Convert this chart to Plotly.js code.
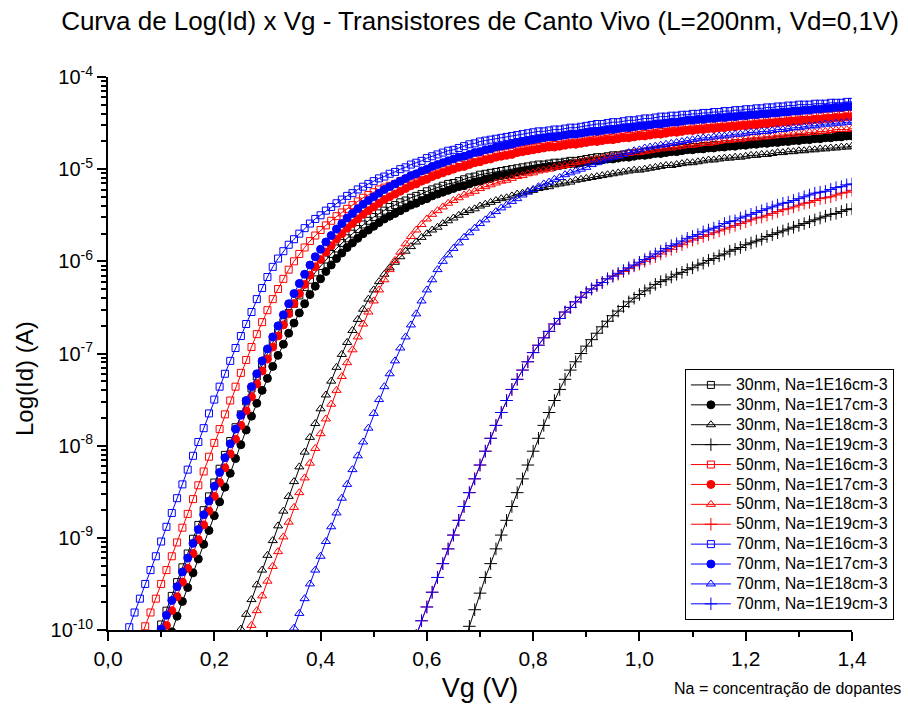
<!DOCTYPE html>
<html>
<head>
<meta charset="utf-8">
<script src="https://cdn.plot.ly/plotly-3.0.1.min.js"></script>
<style>html,body{margin:0;padding:0;background:#fff;}#chart{width:908px;height:713px;}</style>
</head>
<body>
<div id="chart"></div>
<script>
// Gate voltage grid (V)
const Vg = [0.03,0.04,0.05,0.06,0.07,0.08,0.09,0.10,0.11,0.12,
0.13,0.14,0.15,0.16,0.17,0.18,0.19,0.20,0.21,0.22,
0.23,0.24,0.25,0.26,0.27,0.28,0.29,0.30,0.31,0.32,
0.33,0.34,0.35,0.36,0.37,0.38,0.39,0.40,0.41,0.42,
0.43,0.44,0.45,0.46,0.47,0.48,0.49,0.50,0.51,0.52,
0.53,0.54,0.55,0.56,0.57,0.58,0.59,0.60,0.61,0.62,
0.63,0.64,0.65,0.66,0.67,0.68,0.69,0.70,0.71,0.72,
0.73,0.74,0.75,0.76,0.77,0.78,0.79,0.80,0.81,0.82,
0.83,0.84,0.85,0.86,0.87,0.88,0.89,0.90,0.91,0.92,
0.93,0.94,0.95,0.96,0.97,0.98,0.99,1.00,1.01,1.02,
1.03,1.04,1.05,1.06,1.07,1.08,1.09,1.10,1.11,1.12,
1.13,1.14,1.15,1.16,1.17,1.18,1.19,1.20,1.21,1.22,
1.23,1.24,1.25,1.26,1.27,1.28,1.29,1.30,1.31,1.32,
1.33,1.34,1.35,1.36,1.37,1.38,1.39,1.40];

// log10(Id [A]) per series; each array ends at Vg = 1.40
const log_30nm_1E16 = [-10.09,
-9.94,-9.79,-9.63,-9.48,-9.32,-9.17,-9.01,-8.86,-8.70,-8.55,
-8.40,-8.25,-8.10,-7.95,-7.80,-7.66,-7.52,-7.38,-7.25,-7.12,
-7.00,-6.88,-6.77,-6.66,-6.56,-6.46,-6.37,-6.28,-6.20,-6.12,
-6.05,-5.98,-5.92,-5.86,-5.80,-5.75,-5.70,-5.65,-5.60,-5.56,
-5.52,-5.48,-5.45,-5.41,
-5.39,-5.36,-5.34,-5.31,-5.29,-5.27,-5.24,-5.22,-5.20,-5.18,
-5.16,-5.15,-5.13,-5.11,-5.09,-5.08,-5.06,-5.05,-5.04,-5.03,
-5.02,-5.01,-5.00,-4.99,-4.98,-4.97,-4.96,-4.95,-4.95,-4.94,
-4.93,-4.93,-4.92,-4.91,-4.91,-4.90,-4.89,-4.88,-4.87,-4.87,
-4.86,-4.85,-4.85,-4.84,-4.83,-4.83,-4.82,-4.81,-4.81,-4.80,
-4.79,-4.79,-4.78,-4.78,-4.77,-4.77,-4.76,-4.76,-4.75,-4.75,
-4.74,-4.74,-4.73,-4.73,-4.72,-4.72,-4.71,-4.71,-4.70,-4.70,
-4.69,-4.69,-4.68,-4.68,-4.67,-4.67,-4.66,-4.66,-4.66,-4.65,
-4.65,-4.65,-4.64,-4.64,-4.64,-4.63,-4.63];

const log_30nm_1E17 = [-10.02,
-9.85,-9.69,-9.54,-9.38,-9.23,-9.07,-8.92,-8.76,-8.61,-8.45,
-8.30,-8.14,-7.99,-7.83,-7.68,-7.54,-7.40,-7.27,-7.14,-7.02,
-6.90,-6.78,-6.67,-6.56,-6.46,-6.36,-6.27,-6.19,-6.11,-6.04,
-5.97,-5.91,-5.85,-5.80,-5.75,-5.70,-5.66,-5.62,-5.58,-5.54,
-5.51,-5.48,-5.45,-5.42,-5.39,-5.37,-5.34,-5.32,-5.29,-5.27,
-5.25,-5.23,-5.21,-5.19,-5.18,-5.16,-5.14,-5.13,-5.11,-5.10,
-5.08,-5.07,-5.06,-5.05,-5.03,-5.02,-5.01,-5.00,-4.99,-4.98,
-4.97,-4.97,-4.96,-4.95,-4.94,-4.94,-4.93,-4.92,-4.91,-4.91,
-4.90,-4.89,-4.89,-4.88,-4.87,-4.87,-4.86,-4.85,-4.85,-4.84,
-4.83,-4.83,-4.82,-4.81,-4.81,-4.80,-4.79,-4.79,-4.78,-4.78,
-4.77,-4.77,-4.76,-4.76,-4.75,-4.75,-4.74,-4.74,-4.73,-4.73,
-4.72,-4.72,-4.71,-4.71,-4.70,-4.70,-4.69,-4.69,-4.68,-4.68,
-4.67,-4.67,-4.66,-4.66,-4.65,-4.65,-4.64,-4.64];

const log_30nm_1E18 = [-10.15,
-9.99,-9.83,-9.67,-9.51,-9.35,-9.19,-9.03,-8.87,-8.71,-8.55,
-8.39,-8.23,-8.07,-7.91,-7.76,-7.60,-7.45,-7.30,-7.15,-7.01,
-6.88,-6.75,-6.63,-6.52,-6.41,-6.31,-6.22,-6.14,-6.07,-6.01,
-5.95,-5.89,-5.84,-5.79,-5.74,-5.70,-5.66,-5.63,-5.59,-5.56,
-5.53,-5.50,-5.47,-5.45,-5.43,-5.40,-5.38,-5.36,-5.34,-5.32,
-5.31,-5.29,-5.27,-5.26,-5.24,-5.23,-5.21,-5.20,-5.19,-5.17,
-5.16,-5.15,-5.14,-5.12,-5.11,-5.10,-5.09,-5.08,-5.07,-5.06,
-5.05,-5.04,-5.03,-5.02,-5.01,-5.01,-5.00,-4.99,-4.98,-4.97,
-4.96,-4.96,-4.95,-4.94,-4.93,-4.93,-4.92,-4.91,-4.90,-4.90,
-4.89,-4.88,-4.88,-4.87,-4.87,-4.86,-4.85,-4.85,-4.84,-4.84,
-4.83,-4.82,-4.82,-4.81,-4.81,-4.80,-4.80,-4.79,-4.79,-4.78,
-4.78,-4.77,-4.77,-4.76,-4.76,-4.75];

const log_30nm_1E19 = [-10.14,
-9.96,-9.78,-9.60,-9.43,-9.28,-9.12,-8.97,-8.81,-8.66,-8.51,
-8.36,-8.21,-8.06,-7.92,-7.78,-7.64,-7.51,-7.39,-7.28,-7.18,
-7.09,-7.00,-6.92,-6.85,-6.78,-6.71,-6.65,-6.59,-6.54,-6.49,
-6.44,-6.40,-6.36,-6.32,-6.29,-6.25,-6.22,-6.20,-6.17,-6.14,
-6.12,-6.09,-6.07,-6.04,-6.02,-5.99,-5.97,-5.94,-5.92,-5.89,
-5.87,-5.85,-5.82,-5.80,-5.78,-5.76,-5.73,-5.71,-5.69,-5.67,
-5.65,-5.63,-5.61,-5.59,-5.57,-5.55,-5.53,-5.51,-5.49,-5.48,
-5.46,-5.44,-5.43];

const log_50nm_1E16 = [-10.11,
-9.96,-9.81,-9.66,-9.50,-9.35,-9.20,-9.05,-8.89,-8.74,-8.58,
-8.43,-8.28,-8.12,-7.97,-7.82,-7.66,-7.51,-7.36,-7.21,-7.07,
-6.93,-6.79,-6.66,-6.53,-6.41,-6.30,-6.19,-6.09,-6.00,-5.92,
-5.85,-5.78,-5.72,-5.66,-5.61,-5.56,-5.51,-5.47,-5.43,-5.39,
-5.35,-5.31,-5.28,-5.25,-5.22,-5.20,-5.18,
-5.16,-5.13,-5.11,-5.08,-5.06,-5.04,-5.01,-4.99,-4.97,-4.95,
-4.93,-4.92,-4.90,-4.88,-4.86,-4.85,-4.83,-4.82,-4.81,-4.80,
-4.79,-4.78,-4.77,-4.76,-4.75,-4.74,-4.73,-4.72,-4.72,-4.71,
-4.70,-4.70,-4.69,-4.68,-4.68,-4.67,-4.66,-4.65,-4.64,-4.64,
-4.63,-4.62,-4.62,-4.61,-4.60,-4.60,-4.59,-4.58,-4.58,-4.57,
-4.56,-4.56,-4.55,-4.55,-4.54,-4.54,-4.53,-4.53,-4.52,-4.52,
-4.51,-4.51,-4.50,-4.50,-4.49,-4.49,-4.48,-4.48,-4.47,-4.47,
-4.46,-4.46,-4.45,-4.45,-4.44,-4.44,-4.43,-4.43,-4.43,-4.42,
-4.42,-4.42,-4.41,-4.41,-4.41,-4.40,-4.40];

const log_50nm_1E17 = [-10.10,
-9.95,-9.79,-9.64,-9.48,-9.33,-9.17,-9.02,-8.86,-8.71,-8.55,
-8.40,-8.24,-8.09,-7.93,-7.78,-7.62,-7.47,-7.33,-7.19,-7.06,
-6.93,-6.81,-6.69,-6.57,-6.46,-6.35,-6.25,-6.15,-6.06,-5.98,
-5.90,-5.83,-5.76,-5.70,-5.64,-5.59,-5.54,-5.49,-5.45,-5.41,
-5.37,-5.33,-5.30,-5.27,-5.24,-5.21,-5.18,-5.16,-5.13,-5.11,
-5.08,-5.06,-5.04,-5.02,-5.00,-4.98,-4.97,-4.95,-4.93,-4.92,
-4.90,-4.89,-4.87,-4.86,-4.85,-4.84,-4.82,-4.81,-4.80,-4.79,
-4.78,-4.77,-4.76,-4.76,-4.75,-4.74,-4.73,-4.73,-4.72,-4.71,
-4.70,-4.70,-4.69,-4.68,-4.68,-4.67,-4.66,-4.66,-4.65,-4.64,
-4.64,-4.63,-4.62,-4.62,-4.61,-4.60,-4.60,-4.59,-4.58,-4.58,
-4.57,-4.57,-4.56,-4.56,-4.55,-4.55,-4.54,-4.54,-4.53,-4.53,
-4.52,-4.52,-4.51,-4.51,-4.50,-4.50,-4.49,-4.49,-4.48,-4.48,
-4.47,-4.47,-4.46,-4.46,-4.45,-4.45,-4.44,-4.44,-4.43,-4.43];

const log_50nm_1E18 = [-10.11,
-9.95,-9.79,-9.63,-9.47,-9.31,-9.15,-8.99,-8.83,-8.67,-8.51,
-8.35,-8.19,-8.03,-7.87,-7.71,-7.55,-7.40,-7.25,-7.10,-6.96,
-6.82,-6.68,-6.55,-6.43,-6.31,-6.20,-6.09,-5.99,-5.90,-5.81,
-5.73,-5.66,-5.60,-5.54,-5.49,-5.45,-5.41,-5.37,-5.34,-5.31,
-5.28,-5.26,-5.24,-5.21,-5.19,-5.17,-5.15,-5.13,-5.12,-5.10,
-5.08,-5.07,-5.05,-5.04,-5.02,-5.01,-5.00,-4.98,-4.97,-4.96,
-4.95,-4.93,-4.92,-4.91,-4.90,-4.89,-4.88,-4.87,-4.86,-4.85,
-4.84,-4.83,-4.82,-4.82,-4.81,-4.80,-4.79,-4.78,-4.77,-4.77,
-4.76,-4.75,-4.74,-4.74,-4.73,-4.72,-4.72,-4.71,-4.70,-4.69,
-4.69,-4.68,-4.68,-4.67,-4.66,-4.66,-4.65,-4.65,-4.64,-4.63,
-4.63,-4.62,-4.62,-4.61,-4.61,-4.60,-4.60,-4.59,-4.59,-4.58,
-4.57,-4.57,-4.57,-4.56];

const log_50nm_1E19 = [-10.06,
-9.90,-9.75,-9.59,-9.43,-9.28,-9.12,-8.97,-8.81,-8.66,-8.51,
-8.36,-8.21,-8.06,-7.92,-7.78,-7.64,-7.51,-7.39,-7.28,-7.18,
-7.09,-6.99,-6.91,-6.83,-6.76,-6.68,-6.62,-6.55,-6.50,-6.44,
-6.39,-6.34,-6.30,-6.26,-6.23,-6.19,-6.16,-6.14,-6.11,-6.08,
-6.05,-6.03,-6.00,-5.97,-5.95,-5.92,-5.89,-5.87,-5.84,-5.82,
-5.79,-5.77,-5.75,-5.73,-5.71,-5.69,-5.67,-5.65,-5.63,-5.61,
-5.59,-5.57,-5.55,-5.53,-5.52,-5.50,-5.48,-5.46,-5.44,-5.43,
-5.41,-5.39,-5.37,-5.36,-5.34,-5.32,-5.31,-5.30,-5.28,-5.26,
-5.25,-5.23];

const log_70nm_1E16 = [-10.12,
-9.97,-9.81,-9.66,-9.50,-9.35,-9.20,-9.04,-8.88,-8.73,-8.57,
-8.42,-8.26,-8.11,-7.96,-7.81,-7.65,-7.50,-7.36,-7.22,-7.08,
-6.94,-6.81,-6.68,-6.55,-6.41,-6.29,-6.17,-6.06,-5.97,-5.89,
-5.82,-5.76,-5.70,-5.64,-5.59,-5.54,-5.50,-5.45,-5.41,-5.37,
-5.33,-5.29,-5.26,-5.22,-5.19,-5.16,-5.13,-5.10,-5.08,-5.05,
-5.03,-5.00,-4.98,-4.95,-4.93,-4.91,-4.88,-4.86,-4.84,-4.82,
-4.80,-4.79,-4.77,-4.75,-4.73,-4.72,-4.70,-4.69,-4.68,-4.67,
-4.66,-4.65,-4.64,-4.63,-4.62,-4.61,-4.60,-4.59,-4.59,-4.58,
-4.57,-4.57,-4.56,-4.55,-4.55,-4.54,-4.53,-4.52,-4.51,-4.51,
-4.50,-4.49,-4.49,-4.48,-4.47,-4.47,-4.46,-4.45,-4.45,-4.44,
-4.43,-4.43,-4.42,-4.42,-4.41,-4.41,-4.40,-4.40,-4.39,-4.39,
-4.38,-4.38,-4.37,-4.37,-4.36,-4.36,-4.35,-4.35,-4.34,-4.34,
-4.33,-4.33,-4.32,-4.32,-4.31,-4.31,-4.30,-4.30,-4.30,-4.29,
-4.29,-4.29,-4.28,-4.28,-4.28,-4.27,-4.27];

const log_70nm_1E17 = [-10.14,
-9.99,-9.84,-9.68,-9.53,-9.37,-9.22,-9.06,-8.91,-8.75,-8.60,
-8.44,-8.29,-8.13,-7.98,-7.82,-7.67,-7.51,-7.36,-7.22,-7.08,
-6.95,-6.82,-6.70,-6.58,-6.46,-6.35,-6.24,-6.14,-6.04,-5.95,
-5.87,-5.79,-5.72,-5.65,-5.59,-5.53,-5.48,-5.43,-5.38,-5.34,
-5.30,-5.26,-5.22,-5.19,-5.16,-5.13,-5.10,-5.07,-5.05,-5.02,
-5.00,-4.97,-4.95,-4.93,-4.91,-4.89,-4.87,-4.86,-4.84,-4.82,
-4.81,-4.79,-4.78,-4.76,-4.75,-4.74,-4.73,-4.71,-4.70,-4.69,
-4.68,-4.67,-4.66,-4.65,-4.65,-4.64,-4.63,-4.62,-4.62,-4.61,
-4.60,-4.59,-4.59,-4.58,-4.57,-4.57,-4.56,-4.55,-4.55,-4.54,
-4.53,-4.53,-4.52,-4.51,-4.51,-4.50,-4.49,-4.49,-4.48,-4.47,
-4.47,-4.46,-4.46,-4.45,-4.45,-4.44,-4.44,-4.43,-4.43,-4.42,
-4.42,-4.41,-4.41,-4.40,-4.40,-4.39,-4.39,-4.38,-4.38,-4.37,
-4.37,-4.36,-4.36,-4.35,-4.35,-4.34,-4.34,-4.33,-4.33,-4.32,
-4.32];

const log_70nm_1E18 = [-10.13,
-9.98,-9.82,-9.66,-9.50,-9.35,-9.20,-9.04,-8.88,-8.73,-8.57,
-8.42,-8.26,-8.11,-7.96,-7.81,-7.65,-7.50,-7.36,-7.22,-7.08,
-6.94,-6.82,-6.69,-6.57,-6.43,-6.31,-6.20,-6.09,-6.00,-5.93,
-5.86,-5.80,-5.74,-5.69,-5.64,-5.59,-5.55,-5.50,-5.46,-5.42,
-5.39,-5.35,-5.32,-5.28,-5.25,-5.22,-5.19,-5.16,-5.14,-5.11,
-5.09,-5.06,-5.04,-5.02,-5.00,-4.98,-4.95,-4.93,-4.91,-4.89,
-4.87,-4.86,-4.84,-4.82,-4.80,-4.79,-4.77,-4.76,-4.75,-4.74,
-4.73,-4.72,-4.71,-4.70,-4.69,-4.68,-4.67,-4.66,-4.66,-4.65,
-4.64,-4.64,-4.63,-4.62,-4.62,-4.61,-4.60,-4.60,-4.59,-4.59,
-4.58,-4.57,-4.57,-4.56,-4.55,-4.55,-4.54,-4.53,-4.53,-4.52,
-4.51,-4.51,-4.50,-4.50,-4.49,-4.49];

const log_70nm_1E19 = [-10.06,
-9.90,-9.75,-9.59,-9.43,-9.28,-9.12,-8.97,-8.81,-8.66,-8.51,
-8.36,-8.21,-8.06,-7.92,-7.78,-7.64,-7.51,-7.39,-7.28,-7.18,
-7.09,-6.99,-6.91,-6.83,-6.76,-6.68,-6.62,-6.55,-6.50,-6.44,
-6.39,-6.34,-6.30,-6.26,-6.23,-6.19,-6.16,-6.13,-6.10,-6.07,
-6.04,-6.01,-5.98,-5.95,-5.92,-5.89,-5.86,-5.83,-5.81,-5.78,
-5.75,-5.73,-5.71,-5.68,-5.66,-5.64,-5.62,-5.59,-5.57,-5.56,
-5.53,-5.51,-5.49,-5.47,-5.45,-5.43,-5.41,-5.39,-5.37,-5.36,
-5.34,-5.32,-5.30,-5.28,-5.26,-5.25,-5.24,-5.22,-5.20,-5.19,
-5.17,-5.16];

const seriesNames = [
  "30nm, Na=1E16cm-3","30nm, Na=1E17cm-3","30nm, Na=1E18cm-3","30nm, Na=1E19cm-3",
  "50nm, Na=1E16cm-3","50nm, Na=1E17cm-3","50nm, Na=1E18cm-3","50nm, Na=1E19cm-3",
  "70nm, Na=1E16cm-3","70nm, Na=1E17cm-3","70nm, Na=1E18cm-3","70nm, Na=1E19cm-3"];
const seriesLogs = [log_30nm_1E16, log_30nm_1E17, log_30nm_1E18, log_30nm_1E19,
  log_50nm_1E16, log_50nm_1E17, log_50nm_1E18, log_50nm_1E19,
  log_70nm_1E16, log_70nm_1E17, log_70nm_1E18, log_70nm_1E19];
const yTickVals = [1e-10,1e-9,1e-8,1e-7,1e-6,1e-5,1e-4];
const yTickText = ["10<sup>-10</sup>","10<sup>-9</sup>","10<sup>-8</sup>","10<sup>-7</sup>","10<sup>-6</sup>","10<sup>-5</sup>","10<sup>-4</sup>"];

// styles
const colors = ["#000000","#000000","#000000","#000000","#ff0000","#ff0000","#ff0000","#ff0000","#0000ff","#0000ff","#0000ff","#0000ff"];
const symbols = ["square-open","circle","triangle-up-open","cross-thin-open"];
const sizes = [7,8,8,9];

const traces = seriesLogs.map((lg, i) => {
  const x = Vg.slice(Vg.length - lg.length);
  const y = lg.map(v => Math.pow(10, v));
  const k = i % 4;
  return {
    type: "scatter", mode: "lines+markers", x: x, y: y,
    name: '<span style="font-size:16px">' + seriesNames[i] + '</span>',
    line: {color: colors[i], width: 1},
    marker: {symbol: symbols[k], size: sizes[k], color: colors[i],
             line: {color: colors[i], width: 1}}
  };
});

const minorY = [];
for (let e = -10; e < -4; e++) for (let m = 2; m <= 9; m++) minorY.push(m * Math.pow(10, e));

const FONT = "Liberation Sans, Arial, Helvetica, sans-serif";
const layout = {
  width: 908, height: 713,
  margin: {l: 108, r: 56, t: 77, b: 83},
  paper_bgcolor: "#fff", plot_bgcolor: "#fff",
  separators: ",.",
  font: {family: FONT, color: "#000"},
  title: {text: "Curva de Log(Id) x Vg - Transistores de Canto Vivo (L=200nm, Vd=0,1V)",
          font: {family: FONT, size: 26, color: "#000"},
          x: 0.5, xref: "paper", xanchor: "center", y: 0.971, yref: "container", yanchor: "middle"},
  xaxis: {
    range: [0, 1.4], dtick: 0.2, tick0: 0, tickformat: ".1f",
    showline: true, linecolor: "#000", linewidth: 2, mirror: false,
    showgrid: false, zeroline: false,
    ticks: "outside", ticklen: 9, tickwidth: 2, tickcolor: "#000",
    tickfont: {family: FONT, size: 21, color: "#000"},
    minor: {dtick: 0.1, tick0: 0, ticks: "outside", ticklen: 5, tickwidth: 2, tickcolor: "#000", showgrid: false},
    title: {text: "Vg (V)", font: {family: FONT, size: 27, color: "#000"}, standoff: 9},
    automargin: false
  },
  yaxis: {
    type: "log", range: [-10, -4],
    tickmode: "array", tickvals: yTickVals, ticktext: yTickText,
    showline: true, linecolor: "#000", linewidth: 2, mirror: false,
    showgrid: false, zeroline: false,
    ticks: "outside", ticklen: 9, tickwidth: 2, tickcolor: "#000",
    tickfont: {family: FONT, size: 20, color: "#000"},
    minor: {tickmode: "array", tickvals: minorY, ticks: "outside", ticklen: 5, tickwidth: 2, tickcolor: "#000", showgrid: false},
    automargin: false
  },
  showlegend: true,
  legend: {
    x: 0.7754, xanchor: "left", y: 0.472, yanchor: "top",
    bgcolor: "#fff", bordercolor: "#000", borderwidth: 1,
    font: {family: FONT, size: 13, color: "#000"},
    itemwidth: 40, tracegroupgap: 0
  },
  annotations: [
    {text: "Log(Id) (A)", textangle: -90, xref: "paper", yref: "paper",
     x: -0.112, y: 0.455, xanchor: "center", yanchor: "middle", showarrow: false,
     font: {family: FONT, size: 24, color: "#000"}},
    {text: "Na = concentração de dopantes", xref: "paper", yref: "paper",
     x: 1.069, y: -0.105, xanchor: "right", yanchor: "middle", showarrow: false,
     font: {family: FONT, size: 16, color: "#000"}}
  ]
};

Plotly.newPlot("chart", traces, layout, {displayModeBar: false, staticPlot: true});
</script>
</body>
</html>
